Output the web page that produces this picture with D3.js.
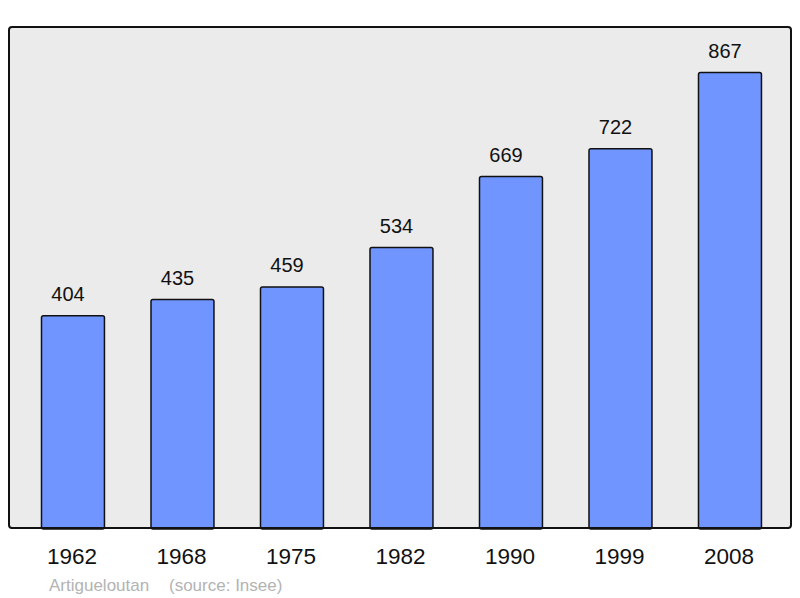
<!DOCTYPE html>
<html><head><meta charset="utf-8">
<script src="https://cdn.jsdelivr.net/npm/d3@7"></script>
<style>body{margin:0;background:#fff}svg{display:block}text{font-family:"Liberation Sans",Arial,sans-serif}</style>
</head><body>
<svg id="c" width="800" height="598"></svg>
<script>
const years = ["1962","1968","1975","1982","1990","1999","2008"];
const population = [404,435,459,534,669,722,867];
const commune = "Artigueloutan";
const source = "(source: Insee)";

const svg = d3.select("#c");
const panel = {x0: 9, x1: 791, y0: 27, y1: 528};

svg.append("rect").attr("x", panel.x0).attr("y", panel.y0)
  .attr("width", panel.x1 - panel.x0).attr("height", panel.y1 - panel.y0)
  .attr("rx", 3).attr("fill", "#ebebeb").attr("stroke", "#111").attr("stroke-width", 2);

const x = d3.scaleBand().domain(years).range([18.23, 784.73]).paddingInner(0.425).paddingOuter(0.2125);
const y = d3.scaleLinear().domain([0, d3.max(population) * 1.1]).range([panel.y1, panel.y0]);

const data = years.map((yr, i) => ({yr, v: population[i]}));

svg.selectAll("rect.bar").data(data).join("rect").attr("class", "bar")
  .attr("x", d => x(d.yr)).attr("y", d => y(d.v))
  .attr("width", x.bandwidth()).attr("height", d => y(0) - y(d.v) + 1)
  .attr("rx", 2).attr("fill", "#7095ff").attr("stroke", "#111").attr("stroke-width", 1.5);

svg.append("line").attr("x1", panel.x0 + 2).attr("x2", panel.x1 - 2)
  .attr("y1", panel.y1).attr("y2", panel.y1).attr("stroke", "#111").attr("stroke-width", 2);

svg.selectAll("text.val").data(data).join("text").attr("class", "val")
  .attr("x", d => x(d.yr) + x.bandwidth() / 2 - 5).attr("y", d => y(d.v) - 14.5)
  .attr("text-anchor", "middle").attr("font-size", 20).attr("fill", "#111").text(d => d.v);

svg.selectAll("text.yr").data(data).join("text").attr("class", "yr")
  .attr("x", d => x(d.yr) + x.bandwidth() / 2 - 1).attr("y", 564)
  .attr("text-anchor", "middle").attr("font-size", 22.5).attr("fill", "#111").text(d => d.yr);

svg.append("text").attr("x", 49).attr("y", 591).attr("font-size", 17).attr("fill", "#b3b3b3").text(commune);
svg.append("text").attr("x", 169).attr("y", 591).attr("font-size", 17).attr("fill", "#b3b3b3").text(source);
</script>
</body></html>
